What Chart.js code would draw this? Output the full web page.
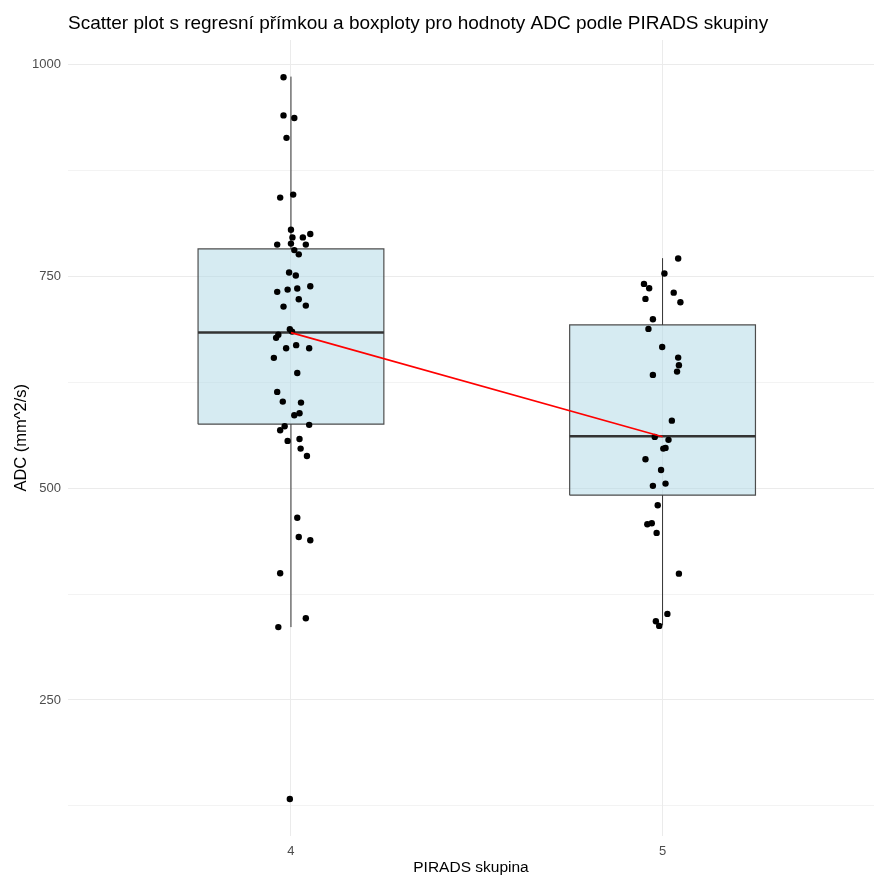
<!DOCTYPE html>
<html>
<head>
<meta charset="utf-8">
<title>ADC podle PIRADS skupiny</title>
<script src="https://cdn.jsdelivr.net/npm/chart.js@4.4.1/dist/chart.umd.min.js"></script>
<style>
  html, body { margin: 0; padding: 0; background: #fff; }
  #wrap { width: 874px; height: 875px; }
</style>
</head>
<body>
<div id="wrap"><canvas id="adc"></canvas></div>
<script>
// PIRADS groups on the x axis
const groups = [4, 5];

// box plot statistics per group
const boxMin = [336, 338];
const boxQ1 = [575.5, 491.7];
const boxMedian = [683.6, 561.3];
const boxQ3 = [782.4, 692.7];
const boxMax = [985.8, 771.5];

// jittered points: horizontal jitter and ADC value
const jitter4 = [-0.020, -0.020, 0.009, -0.012, -0.029, 0.006, 0.000, 0.004, 0.032, 0.052,
  -0.037, 0.000, 0.040, 0.009, 0.021, -0.005, 0.013, 0.052, -0.037, -0.009,
  0.017, 0.021, 0.040, -0.020, -0.003, 0.003, -0.034, -0.040, -0.013, 0.014,
  0.049, -0.046, 0.017, -0.037, -0.022, 0.027, 0.023, 0.009, 0.049, -0.017,
  -0.029, -0.009, 0.023, 0.026, 0.043, 0.017, 0.021, 0.052, -0.029, 0.040,
  -0.034, -0.003];
const adc4 = [985, 940, 937, 913.5, 843, 846.5, 805, 796, 796, 800,
  787.5, 788.7, 787.5, 781, 776, 754.5, 751, 738.4, 731.7, 734.4,
  735.6, 723, 715.5, 714.3, 687.6, 684.8, 681, 677.4, 665.2, 668.8,
  665.2, 653.8, 636, 613.6, 602.2, 601, 588.5, 586, 574.7, 573,
  568.4, 555.8, 558, 546.7, 538, 465, 442.4, 438.5, 399.6, 346.5,
  336, 133];

const jitter5 = [0.042, 0.005, -0.050, -0.036, 0.030, -0.046, 0.048, -0.026, -0.038, -0.001,
  0.042, 0.044, 0.039, -0.026, 0.025, -0.021, 0.016, 0.002, 0.008, -0.046,
  -0.004, -0.026, 0.008, -0.013, -0.041, -0.029, -0.016, 0.044, 0.013, -0.018,
  -0.009];
const adc5 = [771, 753.3, 741.1, 736, 730.8, 723.4, 719.5, 699.4, 688, 666.7,
  654.1, 645.1, 637.6, 633.7, 579.7, 560.5, 557, 546.7, 547.5, 534.2,
  521.5, 502.7, 505.4, 479.9, 457.4, 458.6, 447.2, 399.1, 351.6, 342.9,
  337.4];

// regression line
const fitX = [4, 5];
const fitY = [683.6, 560.8];

// y ticks: labelled every 250, minor grid in between
const yTicks = [125, 250, 375, 500, 625, 750, 875, 1000];

const boxHalf = 0.25;
const fontFamily = '"Liberation Sans", Arial, sans-serif';

const datasets = [];
groups.forEach((g, i) => {
  const l = g - boxHalf, r = g + boxHalf;
  datasets.push({
    data: [{x: l, y: boxQ1[i]}, {x: r, y: boxQ1[i]}, {x: r, y: boxQ3[i]}, {x: l, y: boxQ3[i]}, {x: l, y: boxQ1[i]}],
    borderColor: '#4d4d4d',
    borderWidth: 1.2,
    backgroundColor: 'rgba(173,216,230,0.5)',
    fill: 'shape',
    pointRadius: 0,
    order: 4
  });
  datasets.push({
    data: [{x: g, y: boxQ3[i]}, {x: g, y: boxMax[i]}],
    borderColor: '#333333', borderWidth: 1, pointRadius: 0, fill: false, order: 3
  });
  datasets.push({
    data: [{x: g, y: boxMin[i]}, {x: g, y: boxQ1[i]}],
    borderColor: '#333333', borderWidth: 1, pointRadius: 0, fill: false, order: 3
  });
  datasets.push({
    data: [{x: l, y: boxMedian[i]}, {x: r, y: boxMedian[i]}],
    borderColor: '#333333', borderWidth: 2.5, pointRadius: 0, fill: false, order: 2
  });
});

const points = adc4.map((v, k) => ({x: 4 + jitter4[k], y: v}))
  .concat(adc5.map((v, k) => ({x: 5 + jitter5[k], y: v})));
datasets.push({
  data: points,
  showLine: false,
  pointRadius: 3.2,
  pointBackgroundColor: '#000000',
  pointBorderWidth: 0,
  order: 1
});

datasets.push({
  data: fitX.map((x, k) => ({x: x, y: fitY[k]})),
  borderColor: '#ff0000',
  borderWidth: 1.6,
  pointRadius: 0,
  fill: false,
  order: 0
});

new Chart(document.getElementById('adc'), {
  type: 'line',
  data: { datasets: datasets },
  options: {
    responsive: true,
    maintainAspectRatio: false,
    animation: false,
    events: [],
    layout: { padding: 0, autoPadding: false },
    plugins: {
      legend: { display: false },
      tooltip: { enabled: false },
      title: {
        display: true,
        fullSize: false,
        align: 'start',
        text: 'Scatter plot s regresní přímkou a boxploty pro hodnoty ADC podle PIRADS skupiny',
        color: '#000000',
        font: { family: fontFamily, size: 19, weight: 'normal', lineHeight: 1.2 },
        padding: { top: 12.1, bottom: 5.1 }
      }
    },
    scales: {
      x: {
        type: 'linear',
        min: 3.4,
        max: 5.569,
        afterBuildTicks: (scale) => { scale.ticks = groups.map(v => ({value: v})); },
        afterFit: (scale) => { scale.height = 39.5; },
        grid: { color: '#ebebeb', lineWidth: 1, drawTicks: false },
        border: { display: false },
        ticks: {
          padding: 8,
          color: '#4d4d4d',
          font: { family: fontFamily, size: 13, lineHeight: 1.2 },
          callback: (v) => String(v)
        },
        title: {
          display: true,
          text: 'PIRADS skupina',
          color: '#000000',
          font: { family: fontFamily, size: 15.5, lineHeight: 1 },
          padding: { top: 3, bottom: 0 }
        }
      },
      y: {
        type: 'linear',
        min: 90,
        max: 1029,
        afterBuildTicks: (scale) => { scale.ticks = yTicks.map(v => ({value: v})); },
        afterFit: (scale) => { scale.width = 68; },
        grid: {
          color: '#ebebeb',
          lineWidth: (ctx) => (ctx.tick && ctx.tick.value % 250 === 0 ? 1 : 0.6),
          drawTicks: false
        },
        border: { display: false },
        ticks: {
          padding: 7,
          color: '#4d4d4d',
          font: { family: fontFamily, size: 13, lineHeight: 1.2 },
          callback: (v) => (v % 250 === 0 ? String(v) : '')
        },
        title: {
          display: true,
          text: 'ADC (mm^2/s)',
          color: '#000000',
          font: { family: fontFamily, size: 16.5, lineHeight: 1 },
          padding: { top: 12.75, bottom: 0 }
        }
      }
    }
  }
});
</script>
</body>
</html>
